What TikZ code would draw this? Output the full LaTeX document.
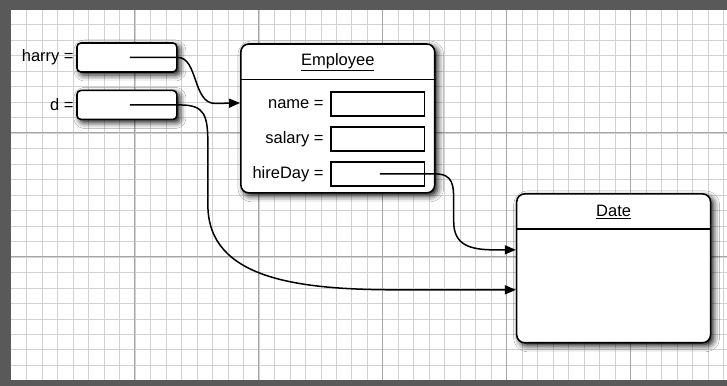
\documentclass[tikz,border=0pt]{standalone}
\usepackage{fontspec}
\setmainfont{Liberation Sans}
\usetikzlibrary{arrows.meta,shadows.blur}

\begin{document}
\begin{tikzpicture}[x=1pt, y=-1pt,
    every node/.style={font=\fontsize{16.5}{19}\selectfont},
    refbox/.style={draw, line width=1.6pt, rounded corners=4pt, fill=white,
      minimum width=100pt, minimum height=29pt,
      blur shadow={shadow xshift=3pt, shadow yshift=-3pt, shadow blur radius=6pt, shadow opacity=95}},
    objbox/.style={refbox, minimum width=194pt, minimum height=149pt, rounded corners=8pt},
    fieldbox/.style={draw, line width=1.4pt, fill=white, minimum width=94pt, minimum height=24pt},
    link/.style={line width=1.5pt, -{Triangle[length=11pt,width=9pt]}},
    minorline/.style={gray!35, line width=0.6pt},
    majorline/.style={gray!70, line width=0.9pt}]

    % paper and grid
    \fill[black!65] (0,0) rectangle (727,386);
    \fill[white] (11,10) rectangle (727,380);
    \foreach \i in {1,...,46} {
      \draw[minorline] ({11+15.5*\i},10) -- ({11+15.5*\i},380);
    }
    \foreach \j in {1,...,23} {
      \draw[minorline] (11,{9+15.5*\j}) -- (727,{9+15.5*\j});
    }
    \foreach \i in {8,16,...,40} {
      \draw[majorline] ({11+15.5*\i},10) -- ({11+15.5*\i},380);
    }
    \foreach \j in {8,16} {
      \draw[majorline] (11,{9+15.5*\j}) -- (727,{9+15.5*\j});
    }

    % variables
    \node[refbox] (harryref) at (127,57.5) {};
    \node[refbox] (dref) at (127,105) {};
    \node[anchor=east] (harrylbl) at ([xshift=1pt]harryref.west) {harry =};
    \node[anchor=east] (dlbl) at ([xshift=1pt]dref.west) {d =};

    % Employee object
    \node[objbox] (emp) at (338,118.5) {};
    \draw[line width=1.2pt] ([yshift=-36pt]emp.north west) -- ([yshift=-36pt]emp.north east);
    \node (emptitle) at ([yshift=-19pt]emp.north) {\underline{Employee}};
    \node[fieldbox] (name) at (378,104) {};
    \node[fieldbox] (salary) at (378,139) {};
    \node[fieldbox] (hireday) at (378,174) {};
    \node[anchor=east] (namelbl) at ([xshift=-3pt]name.west) {name =};
    \node[anchor=east] (salarylbl) at ([xshift=-3pt]salary.west) {salary =};
    \node[anchor=east] (hiredaylbl) at ([xshift=-3pt]hireday.west) {hireDay =};

    % Date object
    \node[objbox] (date) at (614,268.5) {};
    \draw[line width=1.2pt] ([yshift=-36pt]date.north west) -- ([yshift=-36pt]date.north east);
    \node (datetitle) at ([yshift=-19pt]date.north) {\underline{Date}};

    % references
    \coordinate (hs) at ([xshift=3pt]harryref.center);
    \coordinate (ds) at ([xshift=3pt]dref.center);
    \coordinate (hds) at ([xshift=2pt]hireday.center);
    \coordinate (empin) at ([yshift=15.5pt]emp.west);
    \coordinate (datein1) at ([yshift=18.5pt]date.west);
    \coordinate (datein2) at ([yshift=-21.5pt]date.west);

    \draw[link] (hs) -- ++(48,0) .. controls +(20,0) and +(-22,0) .. ++(37,46) -- (empin);
    \draw[link] (ds) -- ++(50,0) .. controls +(25,0) and +(0,-30) .. ++(28,40)
      -- ++(0,60) .. controls +(0,75) and +(-100,0) .. ++(192,85) -- (datein2);
    \draw[link] (hds) -- ++(55,0) .. controls +(19,0) and +(0,-20) .. ++(19,31)
      -- ++(0,17) .. controls +(0,23) and +(-25,0) .. ++(41,28) -- (datein1);
\end{tikzpicture}
\end{document}
